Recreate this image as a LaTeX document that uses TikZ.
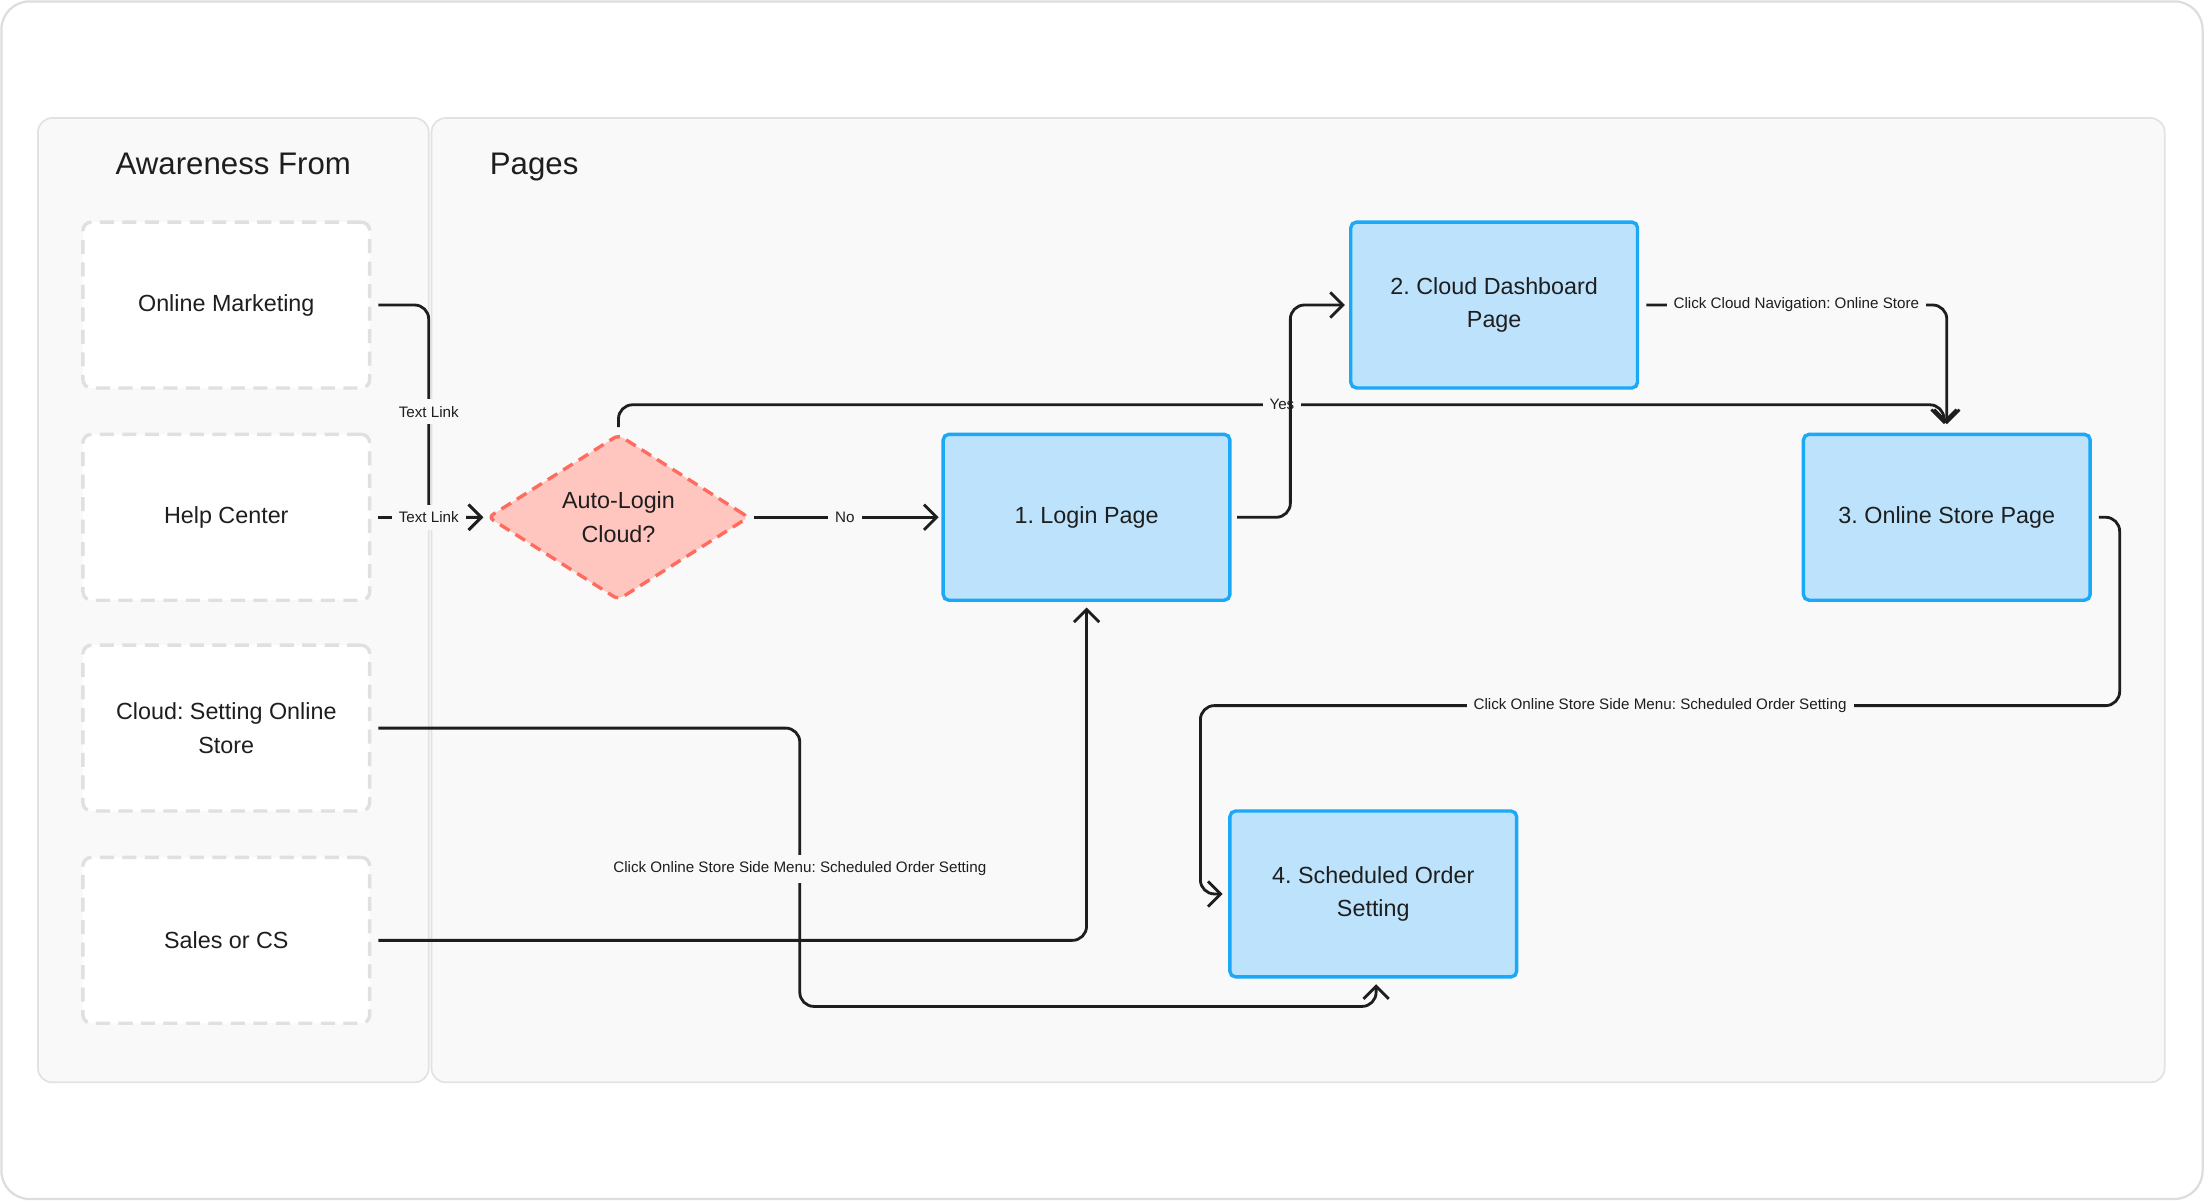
\documentclass[tikz,border=0pt]{standalone}
\usepackage{fontspec}
\setmainfont{Liberation Sans}
\frenchspacing
\usetikzlibrary{arrows.meta,shapes.geometric}
\definecolor{framec}{HTML}{DDDDDD}
\definecolor{lanebg}{HTML}{F9F9F9}
\definecolor{laneline}{HTML}{E2E2E2}
\definecolor{awline}{HTML}{E0E0E0}
\definecolor{pagefill}{HTML}{BDE3FC}
\definecolor{pageline}{HTML}{1AA8F7}
\definecolor{decfill}{HTML}{FFC6C0}
\definecolor{decline}{HTML}{FF6B5E}
\definecolor{ink}{HTML}{1E1E1E}
\tikzset{
  lane/.style={draw=laneline, line width=0.6pt, fill=lanebg, rounded corners=5pt},
  lanetitle/.style={font=\fontsize{11.1}{13}\selectfont, text=ink, text height=8pt, text depth=2pt},
  awbox/.style={draw=awline, fill=white, line width=1.2pt, dash pattern=on 5pt off 3pt,
    rounded corners=3pt, minimum width=102pt, minimum height=59pt, align=center,
    font=\fontsize{8.3}{12}\selectfont, text=ink},
  pagebox/.style={draw=pageline, fill=pagefill, line width=1.2pt, rounded corners=2pt,
    minimum width=102pt, minimum height=59pt, align=center,
    font=\fontsize{8.3}{12}\selectfont, text=ink},
  decbox/.style={diamond, aspect=1.6, draw=decline, fill=decfill, line width=1.2pt,
    dash pattern=on 4pt off 2.5pt, rounded corners=2pt, inner sep=0pt,
    minimum width=93pt, minimum height=59pt, align=center,
    font=\fontsize{8.3}{12}\selectfont, text=ink},
  conn/.style={draw=ink, line width=1pt, rounded corners=5pt,
    -{Straight Barb[length=4.5pt,width=9pt,line width=1pt]}},
  lbl/.style={fill=lanebg, inner sep=2.5pt, font=\fontsize{5.4}{6}\selectfont, text=ink}
}
\begin{document}
\begin{tikzpicture}[x=0.5pt,y=-0.5pt]
\useasboundingbox (0,0) rectangle (1568,854);
\draw[framec, line width=0.8pt, fill=white, rounded corners=10pt] (1,1) rectangle (1567,853);
% lanes
\draw[lane] (27,84) rectangle (305,770);
\draw[lane] (307,84) rectangle (1540,770);
\node[lanetitle] (t1) at (166,118) {Awareness From};
\node[lanetitle] (t2) at (380,118) {Pages};
% awareness boxes
\node[awbox] (om) at (161,217) {Online Marketing};
\node[awbox] (hc) at (161,368) {Help Center};
\node[awbox] (cs) at (161,518) {Cloud: Setting Online\\Store};
\node[awbox] (sc) at (161,669) {Sales or CS};
% pages
\node[decbox] (d) at (440,368) {Auto-Login\\Cloud?};
\node[pagebox] (lp) at (773,368) {1. Login Page};
\node[pagebox] (cd) at (1063,217) {2. Cloud Dashboard\\Page};
\node[pagebox] (os) at (1385,368) {3. Online Store Page};
\node[pagebox] (so) at (977,636) {4. Scheduled Order\\Setting};
% connectors
\draw[conn, shorten >=1pt] ([xshift=2.5pt]om.east) -- (305,217) -- (305,368) -- (d.west);
\node[lbl] (l1) at (305,293) {Text Link};
\draw[conn, shorten >=1pt] ([xshift=2.5pt]hc.east) -- (d.west);
\node[lbl] (l2) at (305,368) {Text Link};
\draw[conn, shorten >=1pt] ([xshift=1pt]d.east) -- (lp.west);
\node[lbl] (l3) at (601,368) {No};
\draw[conn, shorten >=3pt] ([yshift=2pt]d.north) |- (912,288) -| ([xshift=-1pt]os.north);
\node[lbl] (l4) at (912,288) {Yes};
\draw[conn, shorten >=1.5pt] ([xshift=2pt]lp.east) -- (918,368) -- (918,217) -- (cd.west);
\draw[conn, shorten >=3pt] ([xshift=2.5pt]cd.east) -| (os.north);
\node[lbl] (l5) at (1278,217) {Click Cloud Navigation: Online Store};
\draw[conn, shorten >=2pt] ([xshift=2.5pt]os.east) -- (1508,368) -- (1508,502) -- (854,502) -- (854,636) -- (so.west);
\node[lbl] (l6) at (1181,502) {Click Online Store Side Menu: Scheduled Order Setting};
\draw[conn, shorten >=2pt] ([xshift=2.5pt]cs.east) -- (569,518) -- (569,716) -| ([xshift=1pt]so.south);
\node[lbl] (l7) at (569,618) {Click Online Store Side Menu: Scheduled Order Setting};
\draw[conn, shorten >=2pt] ([xshift=2.5pt]sc.east) -| (lp.south);
\end{tikzpicture}
\end{document}
